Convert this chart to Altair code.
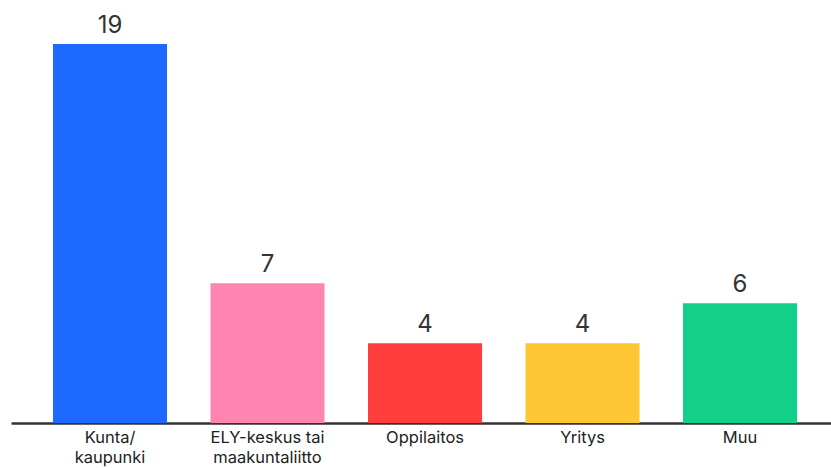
import altair as alt
import pandas as pd
import json

categories = ["Kunta/kaupunki", "ELY-keskus tai maakuntaliitto", "Oppilaitos", "Yritys", "Muu"]
label_lines = [["Kunta/", "kaupunki"], ["ELY-keskus tai", "maakuntaliitto"], ["Oppilaitos"], ["Yritys"], ["Muu"]]
values = [19, 7, 4, 4, 6]
colors = ["#1E69FF", "#FF84B0", "#FF3D3D", "#FFC633", "#12D08A"]

df = pd.DataFrame({"category": categories, "value": values})
mapping = {c: l for c, l in zip(categories, label_lines)}
label_expr = json.dumps(mapping) + "[datum.label]"

x = alt.X(
    "category:N",
    sort=categories,
    title=None,
    scale=alt.Scale(paddingInner=0.276, paddingOuter=0.241, align=0.553),
    axis=alt.Axis(
        labelAngle=0,
        labelExpr=label_expr,
        labelFont="Inter",
        labelFontSize=16.5,
        labelColor="#222222",
        labelPadding=6,
        labelLineHeight=20,
        ticks=False,
        domainColor="#333333",
        domainWidth=2.5,
        grid=False,
    ),
)
y = alt.Y("value:Q", scale=alt.Scale(domain=[0, 19], nice=False), axis=None)

bars = alt.Chart(df).mark_bar().encode(
    x=x,
    y=y,
    color=alt.Color("category:N", sort=categories,
                    scale=alt.Scale(domain=categories, range=colors), legend=None),
)
texts = alt.Chart(df).mark_text(
    baseline="bottom", dy=-6, fontSize=24, font="Inter", color="#333333"
).encode(x=x, y=y, text="value:Q")

chart = (bars + texts).properties(
    width=820,
    height=379,
    padding={"left": 11, "top": 44, "right": 0, "bottom": 45},
    autosize=alt.AutoSizeParams(type="none"),
).configure(background="white").configure_view(stroke=None, strokeWidth=0)

chart.save("out.html", embed_options={"renderer": "svg", "actions": False})
